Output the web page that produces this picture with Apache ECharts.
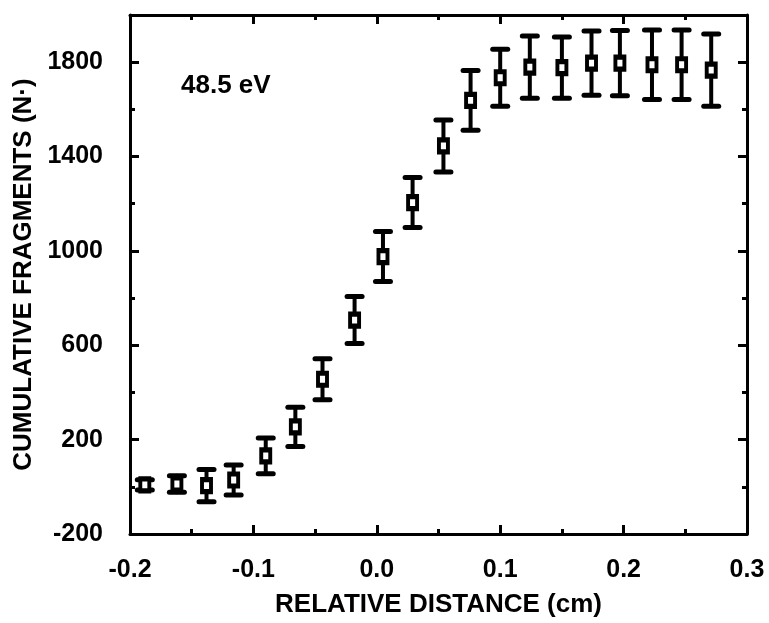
<!DOCTYPE html>
<html>
<head>
<meta charset="utf-8">
<script src="https://cdn.jsdelivr.net/npm/echarts@6/dist/echarts.min.js"></script>
<style>html,body{margin:0;padding:0;background:#fff}#c{width:769px;height:623px}</style>
</head>
<body>
<div id="c"></div>
<script>
// Data
var xValues = [-0.188, -0.162, -0.138, -0.116, -0.090, -0.066, -0.044, -0.018, 0.005, 0.029,
               0.054, 0.076, 0.100, 0.124, 0.150, 0.174, 0.197, 0.223, 0.247, 0.271];
var yValues = [8, 12, 5, 29, 131, 254, 456, 707, 976, 1205,
               1445, 1638, 1734, 1779, 1777, 1796, 1796, 1789, 1789, 1766];
var yErrors = [22, 35, 68, 64, 76, 83, 87, 100, 106, 106,
               110, 127, 121, 132, 130, 136, 138, 147, 147, 153];
var xTitle = 'RELATIVE DISTANCE (cm)';
var yTitle = 'CUMULATIVE FRAGMENTS (N\u00B7)';
var annotation = '48.5 eV';

var FONT = '"Liberation Sans", Arial, Helvetica, sans-serif';

var pointData = xValues.map(function (x, i) { return [x, yValues[i]]; });
var errData = xValues.map(function (x, i) { return [x, yValues[i] - yErrors[i], yValues[i] + yErrors[i]]; });

function xAxisDef(pos, showLabel, tickLen, withName) {
  return {
    type: 'value', position: pos, min: -0.2, max: 0.3, interval: 0.1,
    axisLine: { show: true, onZero: false, lineStyle: { color: '#000', width: 3 } },
    axisTick: { show: true, inside: true, length: tickLen, lineStyle: { color: '#000', width: 3 } },
    minorTick: { show: true, splitNumber: 2, length: 5, lineStyle: { color: '#000', width: 3 } },
    splitLine: { show: false },
    axisLabel: { show: showLabel, margin: 24, color: '#000', fontFamily: FONT, fontWeight: 'bold', fontSize: 25,
      formatter: function (v) { return v.toFixed(1); } },
    name: withName ? xTitle : '', nameLocation: 'middle', nameGap: 58,
    nameTextStyle: { color: '#000', fontFamily: FONT, fontWeight: 'bold', fontSize: 26 }
  };
}
function yAxisDef(pos, interval, showLabel, tickLen, showLine, withName) {
  return {
    type: 'value', position: pos, min: -200, max: 2000, interval: interval,
    axisLine: { show: showLine, onZero: false, lineStyle: { color: '#000', width: 3 } },
    axisTick: { show: true, inside: true, length: tickLen, lineStyle: { color: '#000', width: 3 } },
    splitLine: { show: false },
    axisLabel: { show: showLabel, margin: 27, color: '#000', fontFamily: FONT, fontWeight: 'bold', fontSize: 25,
      showMaxLabel: false, formatter: function (v) { return String(v); } },
    name: withName ? yTitle : '', nameLocation: 'middle', nameGap: 89, nameRotate: 90,
    nameTextStyle: { color: '#000', fontFamily: FONT, fontWeight: 'bold', fontSize: 26 }
  };
}

var chart = echarts.init(document.getElementById('c'), null, { renderer: 'canvas' });
chart.setOption({
  backgroundColor: '#fff',
  animation: false,
  grid: { left: 130, right: 22, top: 15, bottom: 86 },
  xAxis: [xAxisDef('bottom', true, 9, true), xAxisDef('top', false, 9, false)],
  yAxis: [
    yAxisDef('left', 400, true, 9, true, true),
    yAxisDef('left', 200, false, 5, false, false),
    yAxisDef('right', 400, false, 9, true, false),
    yAxisDef('right', 200, false, 5, false, false)
  ],
  graphic: [{
    type: 'text', left: 181, top: 73,
    style: { text: annotation, fill: '#000', font: 'bold 26px ' + FONT }
  }],
  series: [
    {
      type: 'custom', xAxisIndex: 0, yAxisIndex: 0, data: errData,
      renderItem: function (params, api) {
        var lo = api.coord([api.value(0), api.value(1)]);
        var hi = api.coord([api.value(0), api.value(2)]);
        var hw = 7.5;
        var st = { stroke: '#000', lineWidth: 4, lineCap: 'round' };
        var cap = { stroke: '#000', lineWidth: 5, lineCap: 'round' };
        return {
          type: 'group',
          children: [
            { type: 'line', shape: { x1: lo[0], y1: lo[1], x2: hi[0], y2: hi[1] }, style: st },
            { type: 'line', shape: { x1: lo[0] - hw, y1: lo[1], x2: lo[0] + hw, y2: lo[1] }, style: cap },
            { type: 'line', shape: { x1: hi[0] - hw, y1: hi[1], x2: hi[0] + hw, y2: hi[1] }, style: cap }
          ]
        };
      },
      encode: { x: 0, y: [1, 2] },
      z: 2
    },
    {
      type: 'scatter', xAxisIndex: 0, yAxisIndex: 0, data: pointData,
      symbol: 'rect', symbolSize: [9, 12],
      itemStyle: { color: '#fff', borderColor: '#000', borderWidth: 4.5, opacity: 1 },
      z: 3
    }
  ]
});
</script>
</body>
</html>
